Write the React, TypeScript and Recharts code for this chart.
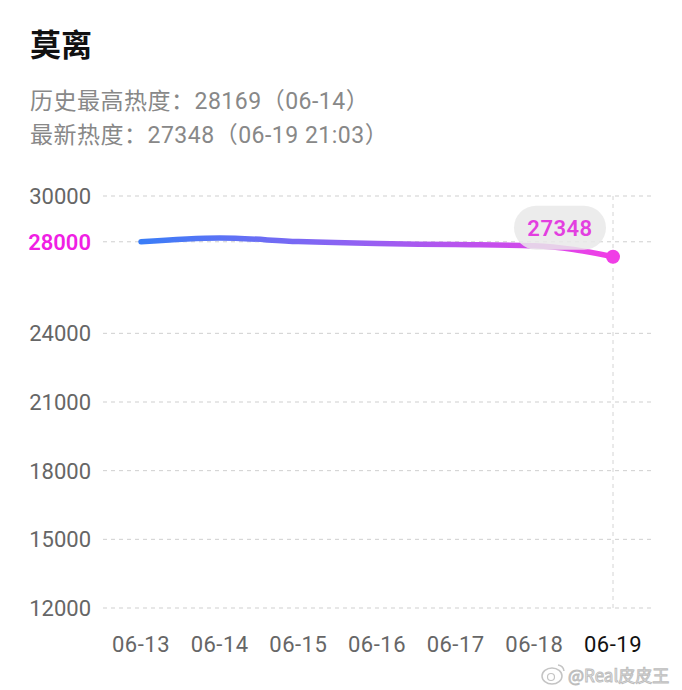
import React from "react";
import {
  LineChart,
  Line,
  XAxis,
  YAxis,
  CartesianGrid,
  ReferenceLine,
} from "recharts";

const dates = ["06-13", "06-14", "06-15", "06-16", "06-17", "06-18", "06-19"];
const heat = [28000, 28169, 28010, 27920, 27880, 27830, 27348];
const yTicks = [12000, 15000, 18000, 21000, 24000, 28000, 30000];
const highlightTick = 28000;
const latestLabel = "27348";
const titleText = "莫离";
const line1 = "历史最高热度：28169（06-14）";
const line2 = "最新热度：27348（06-19 21:03）";

const data = dates.map((d, i) => ({ date: d, value: heat[i] }));

const NUM_FONT = "Roboto, 'Noto Sans CJK SC', sans-serif";

const YTick = (props: any) => {
  const { x, y, payload } = props;
  const hl = payload.value === highlightTick;
  return (
    <text
      x={x}
      y={y}
      dy="0.36em"
      textAnchor="end"
      fontSize={22}
      fontFamily={NUM_FONT}
      fontWeight={hl ? 600 : 400}
      fill={hl ? "#f01fe4" : "#666"}
    >
      {payload.value}
    </text>
  );
};

const XTick = (props: any) => {
  const { x, y, payload, index } = props;
  const last = index === dates.length - 1;
  return (
    <text
      x={x}
      y={y}
      dy="0.71em"
      textAnchor="middle"
      fontSize={22}
      fontFamily={NUM_FONT}
      letterSpacing={0.5}
      fill={last ? "#111" : "#666"}
    >
      {payload.value}
    </text>
  );
};

const EndDot = (props: any) => {
  const { cx, cy, index } = props;
  if (index !== dates.length - 1) return <g key={`d${index}`} />;
  const bx = cx - 53;
  const by = cy - 29;
  return (
    <g key={`d${index}`}>
      <circle cx={cx} cy={cy} r={7} fill="#f03ee6" />
      <rect
        x={bx - 46}
        y={by - 22}
        width={92}
        height={44}
        rx={22}
        fill="#e9e9e9"
        fillOpacity={0.85}
      />
      <text
        x={bx}
        y={by}
        dy="0.36em"
        textAnchor="middle"
        fontSize={22}
        fontWeight={600}
        fontFamily={NUM_FONT}
        letterSpacing={0.5}
        fill="#e33fe0"
      >
        {latestLabel}
      </text>
    </g>
  );
};

export default function App() {
  return (
    <div
      style={{
        position: "absolute",
        left: 0,
        top: 0,
        width: 682,
        height: 690,
        background: "#fff",
        overflow: "hidden",
      }}
    >
      <div
        style={{
          position: "absolute",
          left: 30,
          top: 23,
          fontSize: 31,
          fontWeight: 700,
          color: "#111",
          fontFamily: "'Noto Sans CJK SC', sans-serif",
          lineHeight: "40px",
        }}
      >
        {titleText}
      </div>
      <div
        style={{
          position: "absolute",
          left: 30,
          top: 85,
          fontSize: 23,
          color: "#888",
          fontFamily: NUM_FONT,
          lineHeight: "34px",
          letterSpacing: "0.5px",
          whiteSpace: "nowrap",
        }}
      >
        <div>{line1}</div>
        <div>{line2}</div>
      </div>
      <div style={{ position: "absolute", left: 0, top: 0 }}>
        <LineChart
          width={682}
          height={690}
          data={data}
          margin={{ top: 196, right: 31, left: 0, bottom: 32 }}
        >
          <defs>
            <linearGradient id="lineGrad" x1="0" y1="0" x2="1" y2="0">
              <stop offset="0%" stopColor="#3a7df7" />
              <stop offset="50%" stopColor="#9a5ef2" />
              <stop offset="100%" stopColor="#f23ee6" />
            </linearGradient>
          </defs>
          <CartesianGrid
            vertical={false}
            stroke="#cfcfcf"
            strokeDasharray="4 4"
          />
          <XAxis
            dataKey="date"
            axisLine={false}
            tickLine={false}
            tickSize={0}
            tickMargin={28}
            height={50}
            padding={{ left: 38, right: 38 }}
            interval={0}
            tick={<XTick />}
          />
          <YAxis
            type="number"
            domain={[12000, 30000]}
            ticks={yTicks}
            width={103}
            axisLine={false}
            tickLine={false}
            tickSize={0}
            tickMargin={12}
            interval={0}
            tick={<YTick />}
          />
          <ReferenceLine
            x={dates[dates.length - 1]}
            stroke="#d4d4d4"
            strokeDasharray="4 4"
          />
          <Line
            type="monotone"
            dataKey="value"
            stroke="url(#lineGrad)"
            strokeWidth={5.5}
            strokeLinecap="round"
            dot={(p: any) => <EndDot {...p} />}
            activeDot={false}
            isAnimationActive={false}
          />
        </LineChart>
      </div>
      <svg
        style={{ position: "absolute", left: 536, top: 660 }}
        width={146}
        height={30}
      >
        <ellipse
          cx={16}
          cy={16}
          rx={10}
          ry={8}
          fill="#fff"
          stroke="#c4c4c4"
          strokeWidth={1.5}
        />
        <circle cx={15} cy={17} r={3.5} fill="none" stroke="#c4c4c4" strokeWidth={1.2} />
        <path d="M22 5 A7 7 0 0 1 28 11" fill="none" stroke="#c4c4c4" strokeWidth={1.5} />
        <text
          x={32}
          y={22}
          fontSize={17}
          fontFamily="'Noto Sans CJK SC', sans-serif"
          fill="#fff"
          stroke="#bdbdbd"
          strokeWidth={1}
        >
          @Real皮皮王
        </text>
      </svg>
    </div>
  );
}
